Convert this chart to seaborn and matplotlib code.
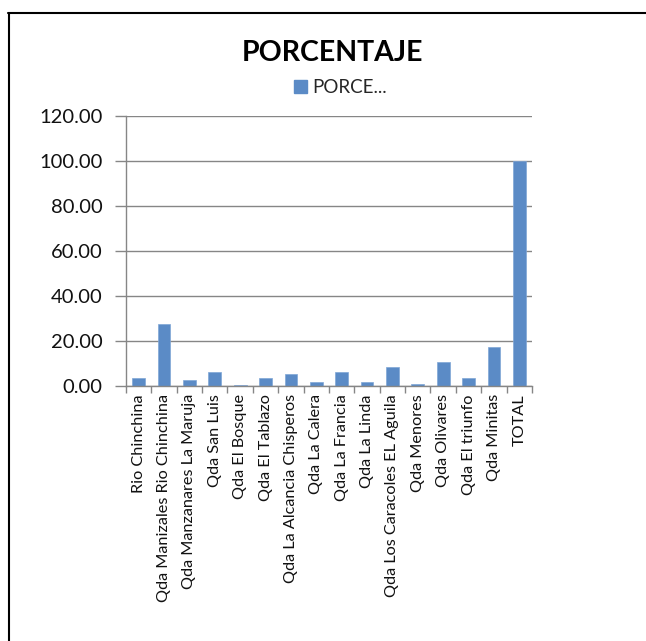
import matplotlib
matplotlib.use("Agg")
import matplotlib.pyplot as plt
import seaborn as sns
import pandas as pd
from matplotlib.lines import Line2D
from matplotlib.patches import Patch
from matplotlib.ticker import FixedLocator

categories = ["Rio Chinchina", "Qda Manizales Rio Chinchina", "Qda Manzanares La Maruja",
              "Qda San Luis", "Qda El Bosque", "Qda El Tablazo", "Qda La Alcancia Chisperos",
              "Qda La Calera", "Qda La Francia", "Qda La Linda", "Qda Los Caracoles EL Aguila",
              "Qda Menores", "Qda Olivares", "Qda El triunfo", "Qda Minitas", "TOTAL"]
porcentaje = [3.3, 27.6, 2.7, 6.1, 0.45, 3.3, 5.5, 1.6, 6.1, 1.6, 8.3, 1.0, 10.5, 3.3, 17.2, 100.0]
yticks = [0, 20, 40, 60, 80, 100, 120]

sns.set_theme(style="white")
plt.rcParams['font.family'] = ['Lato', 'DejaVu Sans']

df = pd.DataFrame({"cat": categories, "val": porcentaje})

fig = plt.figure(figsize=(6.46, 6.41), dpi=100)
ax = fig.add_axes([0.195, 0.398, 0.6285, 0.421])
bar_color = "#5B8BC6"
sns.barplot(data=df, x="cat", y="val", color=bar_color, width=0.5, ax=ax,
            saturation=1, edgecolor="#7FA6D6", linewidth=0.5)

ax.set_xlim(-0.5, len(categories) - 0.5)
ax.set_ylim(0, 120)
ax.set_yticks(yticks)
ax.set_yticklabels([f"{v:.2f}" for v in yticks], fontsize=14.5, color="#111111")
ax.set_xticks(range(len(categories)))
ax.set_xticklabels(categories, rotation=90, fontsize=11.7, color="#111111")
ax.xaxis.set_minor_locator(FixedLocator([i - 0.5 for i in range(len(categories) + 1)]))
ax.tick_params(axis="x", which="major", length=0, pad=6)
ax.tick_params(axis="x", which="minor", length=5, color="#868686", width=1, direction="out", bottom=True)
ax.tick_params(axis="y", which="major", length=8, color="#868686", width=1, direction="out", left=True, pad=9)
ax.set_xlabel("")
ax.set_ylabel("")
ax.yaxis.grid(True, color="#868686", linewidth=1)
ax.set_axisbelow(True)
for s in ["top", "right"]:
    ax.spines[s].set_visible(False)
for s in ["left", "bottom"]:
    ax.spines[s].set_color("#868686")
    ax.spines[s].set_linewidth(1)

fig.text(0.514, 0.918, "PORCENTAJE", ha="center", va="center", fontsize=20.5, fontweight="bold", color="black")
handles = [Patch(facecolor=bar_color, edgecolor=bar_color)]
fig.legend(handles, ["PORCE..."], loc="center", bbox_to_anchor=(0.527, 0.864), frameon=False,
           fontsize=13.5, handlelength=0.7, handleheight=0.7, handletextpad=0.3, borderpad=0)

fig.add_artist(Line2D([0.014, 0.014], [0, 0.979], transform=fig.transFigure, color="black", linewidth=1.5))
fig.add_artist(Line2D([0.013, 1.0], [0.979, 0.979], transform=fig.transFigure, color="black", linewidth=1.5))

fig.savefig("out.png", dpi=100, facecolor="white")
